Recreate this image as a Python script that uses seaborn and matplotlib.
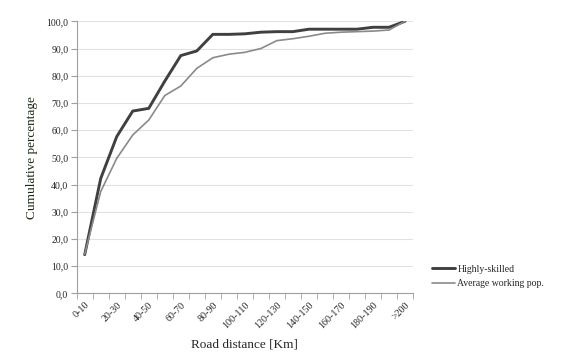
import matplotlib
matplotlib.use("Agg")
import matplotlib.pyplot as plt
import pandas as pd
import seaborn as sns
from matplotlib.ticker import FixedLocator

# Data
categories = ['0-10', '10-20', '20-30', '30-40', '40-50', '50-60', '60-70', '70-80',
              '80-90', '90-100', '100-110', '110-120', '120-130', '130-140', '140-150',
              '150-160', '160-170', '170-180', '180-190', '190-200', '>200']
highly_skilled = [14.2, 42.2, 57.6, 67.0, 68.0, 78.0, 87.4, 89.1, 95.2, 95.2, 95.4,
                  96.0, 96.2, 96.2, 97.1, 97.1, 97.1, 97.1, 97.8, 97.8, 100.0]
average_pop = [14.4, 37.4, 49.6, 58.2, 63.7, 72.7, 76.2, 82.7, 86.6, 87.9, 88.6,
               90.0, 92.9, 93.6, 94.5, 95.6, 96.0, 96.2, 96.4, 96.8, 100.0]
y_ticks = [0, 10, 20, 30, 40, 50, 60, 70, 80, 90, 100]
y_labels = ['0,0', '10,0', '20,0', '30,0', '40,0', '50,0', '60,0', '70,0', '80,0', '90,0', '100,0']

df = pd.DataFrame({
    'pos': list(range(len(categories))) * 2,
    'value': highly_skilled + average_pop,
    'series': ['Highly-skilled'] * len(categories) + ['Average working pop.'] * len(categories),
})

sns.set_style('white')
plt.rcParams['font.family'] = ['Liberation Serif', 'DejaVu Serif']

fig = plt.figure(figsize=(5.63, 3.63), dpi=100)
ax = fig.add_axes([0.1362, 0.192, 0.5974, 0.7493])

sns.lineplot(data=df, x='pos', y='value', hue='series', size='series',
             palette={'Highly-skilled': '#404040', 'Average working pop.': '#8a8a8a'},
             sizes={'Highly-skilled': 2.1, 'Average working pop.': 1.2},
             ax=ax, legend=False)

ax.set_xlim(-0.5, len(categories) - 0.5)
ax.set_ylim(0, 100)

ax.set_yticks(y_ticks)
ax.set_yticklabels(y_labels, fontsize=7)
ax.yaxis.grid(True, color='#e2e2e2', linewidth=0.8)
ax.set_axisbelow(True)

# labels every other category, tick marks at category boundaries
shown = list(range(0, len(categories), 2))
ax.set_xticks(shown)
ax.set_xticklabels([categories[i] for i in shown], rotation=45, ha='right',
                   rotation_mode='anchor', fontsize=7.2)
ax.xaxis.set_minor_locator(FixedLocator([i - 0.5 for i in range(len(categories) + 1)]))
ax.tick_params(axis='x', which='major', length=0, pad=5)
ax.tick_params(axis='x', which='minor', length=4, color='#a0a0a0', direction='out', bottom=True)
ax.tick_params(axis='y', length=4, color='#a0a0a0', direction='out', left=True, pad=2)

for s in ['top', 'right']:
    ax.spines[s].set_visible(False)
for s in ['left', 'bottom']:
    ax.spines[s].set_color('#a0a0a0')
    ax.spines[s].set_linewidth(0.8)

ax.set_xlabel('Road distance [Km]', fontsize=9.5, labelpad=6)
ax.set_ylabel('Cumulative percentage', fontsize=9.5, labelpad=6, color='#1a2a10')

handles = [plt.Line2D([], [], color='#404040', linewidth=2.1),
           plt.Line2D([], [], color='#8a8a8a', linewidth=1.2)]
fig.legend(handles, ['Highly-skilled', 'Average working pop.'],
           loc='upper left', bbox_to_anchor=(0.752, 0.295), frameon=False,
           fontsize=7, handlelength=2.4, handletextpad=0.2, labelspacing=0.6)

fig.savefig('out.png', dpi=100)
